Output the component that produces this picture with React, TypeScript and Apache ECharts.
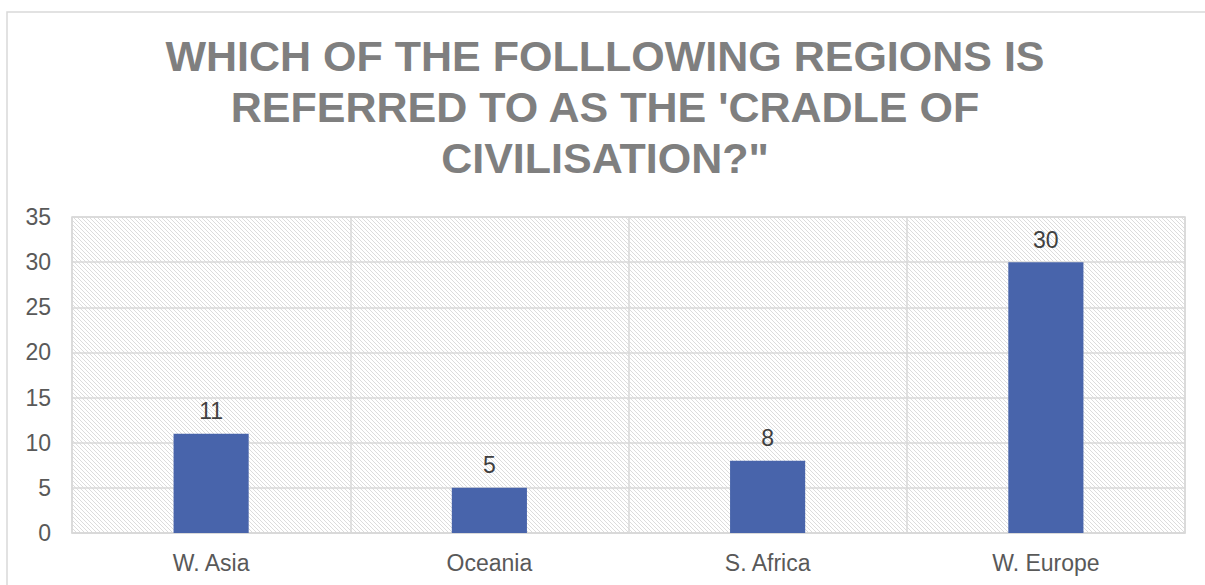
import React, { useEffect, useRef } from "react";
import * as echarts from "echarts";

const categories = ["W. Asia", "Oceania", "S. Africa", "W. Europe"];
const responses = [11, 5, 8, 30];
const titleLines = [
  "WHICH OF THE FOLLLOWING REGIONS IS",
  "REFERRED TO AS THE 'CRADLE OF",
  "CIVILISATION?\"",
];

const FONT = "'Liberation Sans', Arial, sans-serif";

// Light diagonal hatch used as the plot-area fill.
function makeHatch(): string {
  const size = 8;
  const c = document.createElement("canvas");
  c.width = size;
  c.height = size;
  const ctx = c.getContext("2d")!;
  ctx.fillStyle = "#ffffff";
  ctx.fillRect(0, 0, size, size);
  ctx.strokeStyle = "#dcdcdc";
  ctx.lineWidth = 1;
  for (let k = -size; k <= size * 2; k += 4) {
    ctx.beginPath();
    ctx.moveTo(k, 0);
    ctx.lineTo(k + size, size);
    ctx.stroke();
  }
  return c.toDataURL();
}

export default function App() {
  const ref = useRef<HTMLDivElement>(null);

  useEffect(() => {
    const chart = echarts.init(ref.current!, null, { renderer: "svg" });
    const hatch = makeHatch();
    chart.setOption({
      animation: false,
      backgroundColor: "#ffffff",
      graphic: [
        {
          type: "rect",
          shape: { x: 7, y: 12, width: 1210, height: 600 },
          style: { fill: "none", stroke: "#d9d9d9", lineWidth: 1.5 },
          silent: true,
        },
        {
          type: "text",
          x: 605,
          y: 30,
          style: {
            text: titleLines.join("\n"),
            textAlign: "center",
            textVerticalAlign: "top",
            font: `bold 43px ${FONT}`,
            fill: "#7f7f7f",
            lineHeight: 51,
          },
        },
      ],
      grid: {
        left: 72,
        right: 20,
        top: 217,
        bottom: 52,
        show: true,
        borderColor: "#d9d9d9",
        borderWidth: 1.5,
        backgroundColor: { image: hatch, repeat: "repeat" },
      },
      xAxis: {
        type: "category",
        data: categories,
        axisTick: { show: false },
        axisLine: { lineStyle: { color: "#d9d9d9", width: 1.5 } },
        splitLine: { show: true, lineStyle: { color: "#d9d9d9", width: 1.5 } },
        axisLabel: {
          color: "#595959",
          fontSize: 23,
          fontFamily: FONT,
          margin: 18,
        },
      },
      yAxis: {
        type: "value",
        min: 0,
        max: 35,
        interval: 5,
        axisLine: { show: false },
        axisTick: { show: false },
        splitLine: { lineStyle: { color: "#d9d9d9", width: 1.5 } },
        axisLabel: {
          color: "#595959",
          fontSize: 23,
          fontFamily: FONT,
          margin: 21,
        },
      },
      series: [
        {
          type: "bar",
          data: responses,
          barWidth: "27%",
          itemStyle: { color: "#4864ab" },
          label: {
            show: true,
            position: "top",
            distance: 11,
            color: "#404040",
            fontSize: 23,
            fontFamily: FONT,
          },
        },
      ],
    });
    return () => chart.dispose();
  }, []);

  return (
    <div
      ref={ref}
      style={{ position: "fixed", left: 0, top: 0, width: 1205, height: 585 }}
    />
  );
}
